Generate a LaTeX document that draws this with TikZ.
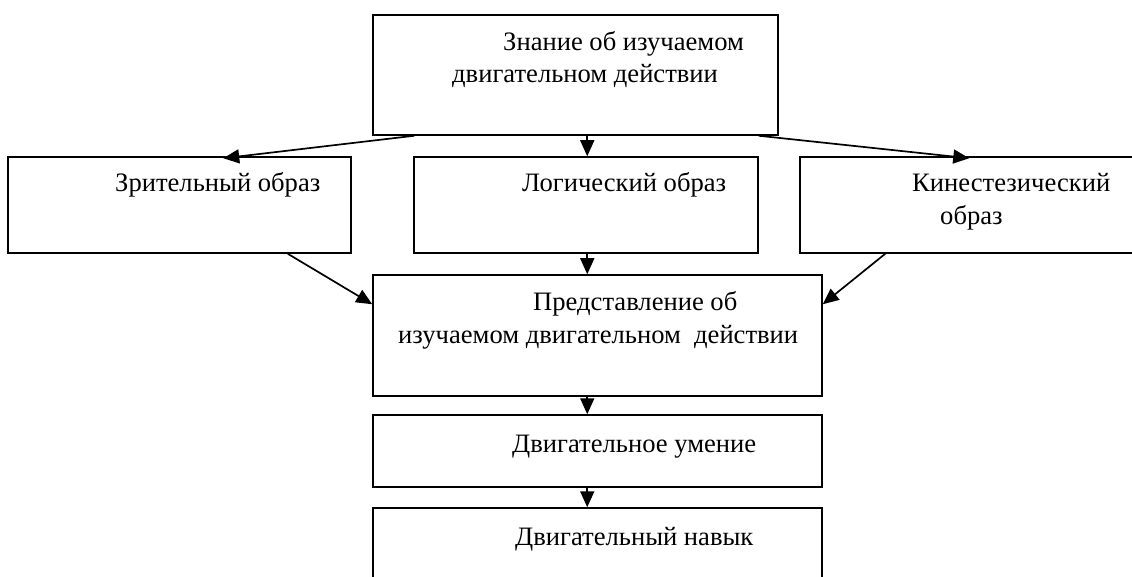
\documentclass[tikz,border=0pt]{standalone}
\usepackage{fontspec}
\setmainfont{Liberation Serif}
\usetikzlibrary{arrows.meta,calc}

\tikzset{
  blok/.style={draw,line width=1.5pt,rectangle,inner sep=0pt},
  yazi/.style={anchor=base west,inner sep=0pt,font=\fontsize{26.6}{32}\selectfont},
  ok/.style={line width=1.7pt,-{Triangle[length=16pt,width=14pt]}}
}

\begin{document}
\begin{tikzpicture}[x=1pt,y=-1pt]
\useasboundingbox[fill=white] (0,0) rectangle (1132,577);
% kutular
\node[blok,minimum width=405pt,minimum height=120pt] (bilgi) at (575.5,75) {};
\node[blok,minimum width=343pt,minimum height=96pt] (gorsel) at (179.5,205) {};
\node[blok,minimum width=344pt,minimum height=96pt] (mantik) at (586,205) {};
\node[blok,minimum width=350pt,minimum height=96pt] (kines) at (975,205) {};
\node[blok,minimum width=449pt,minimum height=121pt] (temsil) at (597.5,335.5) {};
\node[blok,minimum width=449pt,minimum height=72pt] (beceri) at (597.5,451) {};
\node[blok,minimum width=449pt,minimum height=92pt] (aliskanlik) at (597.5,554) {};
% yazilar
\node[yazi] (t1a) at (503,51) {Знание об изучаемом};
\node[yazi] (t1b) at (452,83) {двигательном действии};
\node[yazi] (t2) at (115,192) {Зрительный образ};
\node[yazi] (t3) at (522,192) {Логический образ};
\node[yazi] (t4a) at (912,192) {Кинестезический};
\node[yazi] (t4b) at (940,225) {образ};
\node[yazi] (t5a) at (533,310) {Представление об};
\node[yazi] (t5b) at (398,343) {изучаемом двигательном\ \ действии};
\node[yazi] (t6) at (512,452) {Двигательное умение};
\node[yazi] (t7) at (515,545) {Двигательный навык};
% oklar
\draw[ok] ($(bilgi.south west)+(42,0)$) -- ($(gorsel.north west)+(216,2)$);
\draw[ok] ($(bilgi.south west)+(215,0)$) -- ($(mantik.north west)+(174,0)$);
\draw[ok] ($(bilgi.south east)+(-20,0)$) -- ($(kines.north west)+(170,2)$);
\draw[ok] ($(gorsel.south east)+(-64,0)$) -- ($(temsil.north west)+(0,30)$);
\draw[ok] ($(mantik.south west)+(174,0)$) -- ($(temsil.north west)+(215,0)$);
\draw[ok] ($(kines.south west)+(86,0)$) -- ($(temsil.north east)+(0,30)$);
\draw[ok] ($(temsil.south west)+(215,0)$) -- ($(beceri.north west)+(215,0)$);
\draw[ok] ($(beceri.south west)+(215,0)$) -- ($(aliskanlik.north west)+(215,0)$);
\end{tikzpicture}
\end{document}
